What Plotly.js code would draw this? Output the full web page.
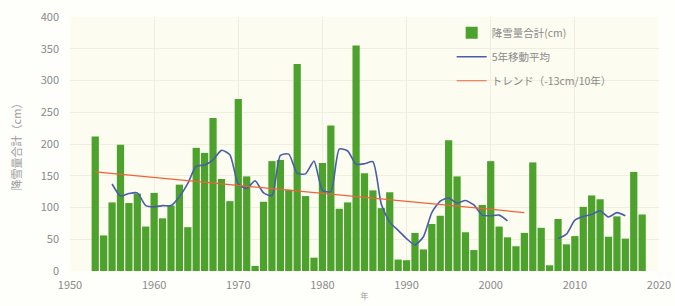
<!DOCTYPE html>
<html><head><meta charset="utf-8">
<script src="https://cdn.plot.ly/plotly-3.0.1.min.js"></script>
<style>html,body{margin:0;padding:0;background:#fefefb;}#chart{width:675px;height:306px;}</style>
</head><body><div id="chart"></div>
<script>
const years = [];
for (let y = 1953; y <= 2018; y++) years.push(y);
const snowfall = [212, 56, 108, 199, 107, 122, 70, 123, 83, 103, 136, 69, 194, 186, 241, 145, 110, 271, 149, 8,
  109, 173, 175, 128, 326, 118, 21, 170, 229, 98, 108, 355, 154, 127, 99, 124, 18, 17, 60, 34,
  74, 87, 206, 149, 61, 33, 104, 173, 70, 53, 39, 60, 171, 68, 9, 82, 42, 55, 101, 119,
  113, 54, 86, 51, 156, 89];
const maYears = [1955,1956,1957,1958,1959,1960,1961,1962,1963,1964,1965,1966,1967,1968,1969,1970,1971,1972,1973,1974,
  1975,1976,1977,1978,1979,1980,1981,1982,1983,1984,1985,1986,1987,1988,1989,1990,1991,1992,1993,1994,
  1995,1996,1997,1998,1999,2000,2001,2002,2003,2008,2009,2010,2011,2012,2013,2014,2015,2016];
const maValues = [137, 118, 122, 123, 103, 101, 103, 103, 117, 138, 165, 167, 175, 190, 183, 137, 130, 142, 123, 119,
  182, 184, 154, 153, 173, 127, 125, 192, 189, 168, 169, 172, 105, 77, 64, 51, 41, 54, 92, 110,
  115, 107, 111, 104, 88, 87, 88, 79, null, 51, 58, 80, 86, 89, 95, 85, 92, 87];
const trendYears = [1953, 2004];
const trendValues = [156, 92];
const yTicks = [0, 50, 100, 150, 200, 250, 300, 350, 400];
const xTicks = [1950, 1960, 1970, 1980, 1990, 2000, 2010, 2020];
const names = ['降雪量合計(cm)', '5年移動平均', 'トレンド（-13cm/10年）'];

const data = [
  {type: 'bar', x: years, y: snowfall, name: names[0], width: 0.86, legendgroup: 'a',
   marker: {color: '#4ca22c'}},
  {type: 'scatter', mode: 'lines', x: maYears, y: maValues, name: names[1], legendgroup: 'b',
   line: {color: '#4a5da8', width: 1.6, shape: 'spline', smoothing: 0.6}, connectgaps: false},
  {type: 'scatter', mode: 'lines', x: trendYears, y: trendValues, name: names[2], legendgroup: 'c',
   line: {color: '#f2623a', width: 1.2}}
];
const font = '"Noto Sans CJK JP", "Noto Sans", sans-serif';
const layout = {
  width: 675, height: 306,
  margin: {l: 70, r: 16, t: 17, b: 34.5},
  paper_bgcolor: '#fefefb', plot_bgcolor: '#fdfcf0',
  font: {family: font, color: '#8a8a8a', size: 11},
  showlegend: true,
  legend: {x: 0.648, y: 0.995, xanchor: 'left', yanchor: 'top', bgcolor: 'rgba(0,0,0,0)',
           font: {size: 10.5, color: '#8a8a8a', family: font}, tracegroupgap: 5, itemwidth: 30},
  xaxis: {range: [1950, 2020], tickvals: xTicks, ticktext: xTicks.map(String), showgrid: true,
          gridcolor: '#efeee0', zeroline: false, showline: false, ticks: '', ticklabelstandoff: 6,
          tickfont: {size: 11, color: '#8a8a8a'},
          title: {text: '年', font: {size: 8, color: '#999'}, standoff: 2}},
  yaxis: {range: [0, 400], tickvals: yTicks, showgrid: true, gridcolor: '#efeee0', zeroline: false,
          ticks: '', ticklabelstandoff: 10, tickfont: {size: 11, color: '#8a8a8a'},
          title: {text: '降雪量合計（cm）', font: {size: 11, color: '#9a9a9a'}, standoff: 16}},
  bargap: 0.14
};
Plotly.newPlot('chart', data, layout, {displayModeBar: false, staticPlot: true});
</script></body></html>
